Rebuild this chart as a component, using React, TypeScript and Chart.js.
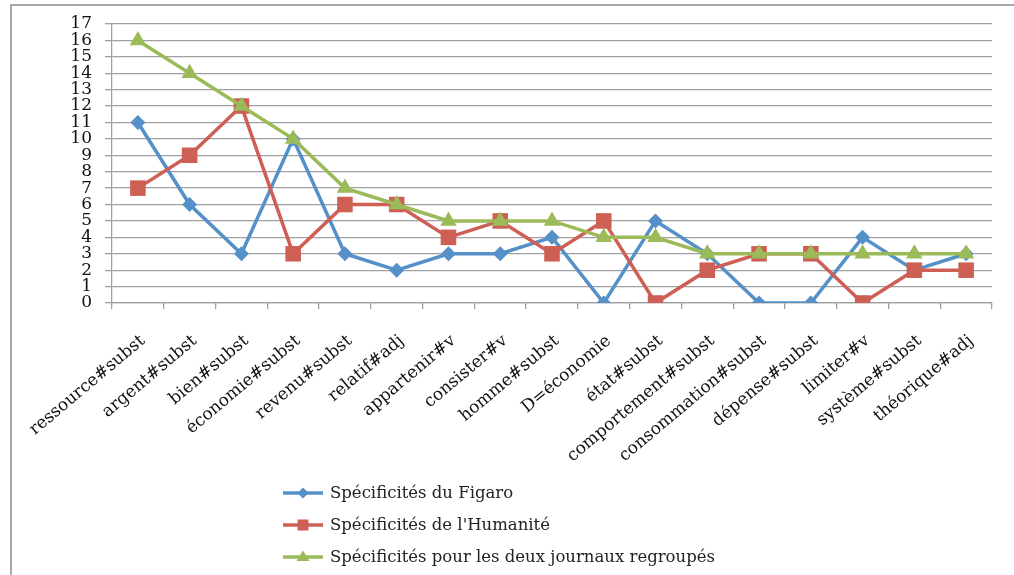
import React, { useEffect, useRef } from "react";
import { Chart, registerables } from "chart.js";

Chart.register(...registerables);

const categories = [
  "ressource#subst",
  "argent#subst",
  "bien#subst",
  "économie#subst",
  "revenu#subst",
  "relatif#adj",
  "appartenir#v",
  "consister#v",
  "homme#subst",
  "D=économie",
  "état#subst",
  "comportement#subst",
  "consommation#subst",
  "dépense#subst",
  "limiter#v",
  "système#subst",
  "théorique#adj",
];

const figaro = [11, 6, 3, 10, 3, 2, 3, 3, 4, 0, 5, 3, 0, 0, 4, 2, 3];
const humanite = [7, 9, 12, 3, 6, 6, 4, 5, 3, 5, 0, 2, 3, 3, 0, 2, 2];
const regroupes = [16, 14, 12, 10, 7, 6, 5, 5, 5, 4, 4, 3, 3, 3, 3, 3, 3];

const seriesNames = [
  "Spécificités du Figaro",
  "Spécificités de l'Humanité",
  "Spécificités pour les deux journaux regroupés",
];

const yMin = 0;
const yMax = 17;
const yStep = 1;

const BLUE = "#5690c8";
const RED = "#cd5f55";
const GREEN = "#9bbb59";
const FONT = "'DejaVu Serif', serif";

function drawMarker(ctx: CanvasRenderingContext2D, kind: string, x: number, y: number, color: string) {
  ctx.fillStyle = color;
  ctx.beginPath();
  if (kind === "diamond") {
    const r = 5.5;
    ctx.moveTo(x, y - r);
    ctx.lineTo(x + r, y);
    ctx.lineTo(x, y + r);
    ctx.lineTo(x - r, y);
  } else if (kind === "square") {
    const s = 5.5;
    ctx.rect(x - s, y - s, 2 * s, 2 * s);
  } else {
    const r = 6.5;
    ctx.moveTo(x, y - r);
    ctx.lineTo(x + r, y + r * 0.6);
    ctx.lineTo(x - r, y + r * 0.6);
  }
  ctx.closePath();
  ctx.fill();
}

const legendPlugin = {
  id: "verticalLegend",
  afterDraw(chart: any) {
    const ctx: CanvasRenderingContext2D = chart.ctx;
    const x0 = 283;
    const ys = [493, 525, 557];
    const kinds = ["diamond", "square", "triangle"];
    ctx.save();
    chart.data.datasets.forEach((ds: any, i: number) => {
      const y = ys[i];
      ctx.strokeStyle = ds.borderColor;
      ctx.lineWidth = 3.5;
      ctx.beginPath();
      ctx.moveTo(x0, y);
      ctx.lineTo(x0 + 40, y);
      ctx.stroke();
      drawMarker(ctx, kinds[i], x0 + 20, y, ds.borderColor);
      ctx.fillStyle = "#222";
      ctx.font = `16.5px ${FONT}`;
      ctx.textAlign = "left";
      ctx.textBaseline = "middle";
      ctx.fillText(ds.label, x0 + 47, y + 1);
    });
    ctx.restore();
  },
};

export default function App() {
  const canvasRef = useRef<HTMLCanvasElement | null>(null);

  useEffect(() => {
    if (!canvasRef.current) return;
    const chart = new Chart(canvasRef.current, {
      type: "line",
      data: {
        labels: categories,
        datasets: [
          {
            label: seriesNames[0],
            data: figaro,
            borderColor: BLUE,
            backgroundColor: BLUE,
            borderWidth: 3.5,
            pointStyle: "rectRot",
            pointRadius: 7.5,
            pointBorderWidth: 0,
            order: 2,
          },
          {
            label: seriesNames[1],
            data: humanite,
            borderColor: RED,
            backgroundColor: RED,
            borderWidth: 3.5,
            pointStyle: "rect",
            pointRadius: 11,
            pointBorderWidth: 0,
            order: 1,
          },
          {
            label: seriesNames[2],
            data: regroupes,
            borderColor: GREEN,
            backgroundColor: GREEN,
            borderWidth: 3.5,
            pointStyle: "triangle",
            pointRadius: 9.5,
            pointBorderWidth: 0,
            order: 0,
          },
        ],
      },
      options: {
        animation: false,
        responsive: true,
        maintainAspectRatio: false,
        layout: { padding: { left: 0, top: 24, right: 22, bottom: 92 } },
        plugins: {
          legend: { display: false },
          tooltip: { enabled: false },
        },
        scales: {
          x: {
            offset: true,
            grid: {
              offset: true,
              drawOnChartArea: false,
              drawTicks: true,
              tickLength: 6,
              color: "#a0a0a0",
              lineWidth: 1.3,
            },
            border: { display: true, color: "#a0a0a0", width: 1.3 },
            ticks: {
              minRotation: 40,
              maxRotation: 40,
              autoSkip: false,
              padding: 22,
              labelOffset: 5,
              color: "#111",
              font: { family: FONT, size: 17 },
            },
            afterFit: (scale: any) => {
              scale.height = 180;
            },
          },
          y: {
            min: yMin,
            max: yMax,
            ticks: {
              stepSize: yStep,
              autoSkip: false,
              padding: 13,
              color: "#111",
              font: { family: FONT, size: 17 },
            },
            grid: {
              color: "#a0a0a0",
              lineWidth: 1.3,
              tickLength: 7,
            },
            border: { display: true, color: "#a0a0a0", width: 1.3 },
            afterFit: (scale: any) => {
              scale.width = 112;
            },
          },
        },
      },
      plugins: [legendPlugin],
    });
    return () => chart.destroy();
  }, []);

  return (
    <div
      style={{
        position: "fixed",
        left: 0,
        top: 0,
        width: 1014,
        height: 575,
        background: "#fff",
        overflow: "hidden",
      }}
    >
      <div
        style={{
          position: "absolute",
          left: 10,
          top: 4,
          width: 1020,
          height: 600,
          borderLeft: "2px solid #a8a8a8",
          borderTop: "2px solid #a8a8a8",
          boxSizing: "border-box",
        }}
      />
      <div style={{ position: "absolute", left: 0, top: 0, width: 1014, height: 575 }}>
        <canvas ref={canvasRef} />
      </div>
    </div>
  );
}
